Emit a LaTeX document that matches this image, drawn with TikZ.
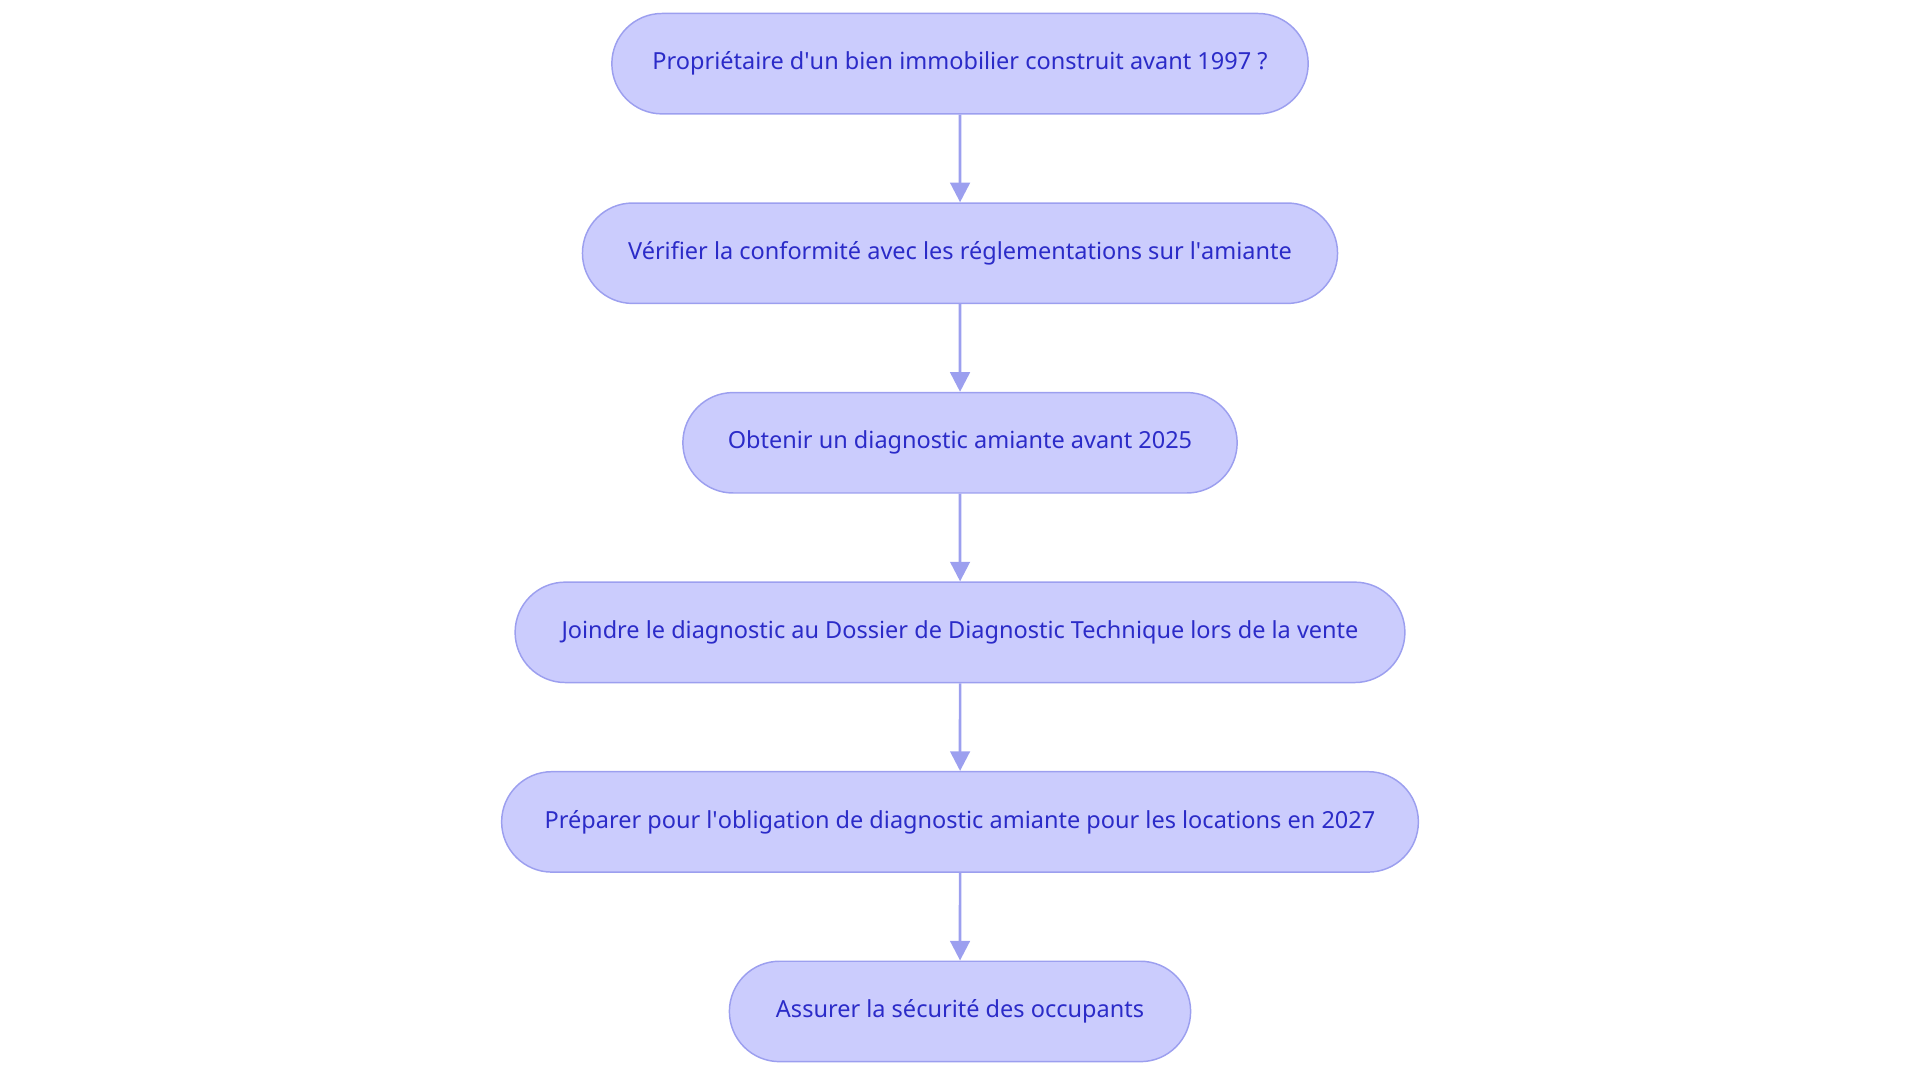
\documentclass[tikz,border=0pt]{standalone}
\usepackage{fontspec}
\setmainfont{Noto Sans}
\usetikzlibrary{positioning,shapes.misc,arrows.meta}
\definecolor{stepfill}{HTML}{CBCCFD}
\definecolor{stepline}{HTML}{9C9FEF}
\definecolor{steptext}{HTML}{2B2BC8}
\newcommand{\sq}{\textquotesingle}
\begin{document}
\begin{tikzpicture}[node distance=35.8pt,
    stage/.style = {shape=rounded rectangle, draw=stepline, fill=stepfill,
      text=steptext, minimum height=41pt, font=\fontsize{9.6}{11}\selectfont,
      line width=0.6pt},
    link/.style = {draw=stepline, line width=1.1pt,
      -{Triangle[length=8pt,width=8pt]}}]
    \useasboundingbox (0,0) rectangle (784pt,-442pt);
    \node[stage, minimum width=291pt] (owner) at (392pt,-26pt)
      {Propriétaire d\sq un bien immobilier construit avant 1997 ?};
    \node[stage, minimum width=315pt, below=of owner] (check)
      {Vérifier la conformité avec les réglementations sur l\sq amiante};
    \node[stage, minimum width=233pt, below=of check] (diag)
      {Obtenir un diagnostic amiante avant 2025};
    \node[stage, minimum width=370pt, below=of diag] (ddt)
      {Joindre le diagnostic au Dossier de Diagnostic Technique lors de la vente};
    \node[stage, minimum width=381pt, below=of ddt] (rent)
      {Préparer pour l\sq obligation de diagnostic amiante pour les locations en 2027};
    \node[stage, minimum width=195pt, below=of rent] (safe)
      {Assurer la sécurité des occupants};
    % connectors
    \foreach \a/\b in {owner/check, check/diag, diag/ddt, ddt/rent, rent/safe}
      \draw[link] (\a) -- (\b);
\end{tikzpicture}
\end{document}
